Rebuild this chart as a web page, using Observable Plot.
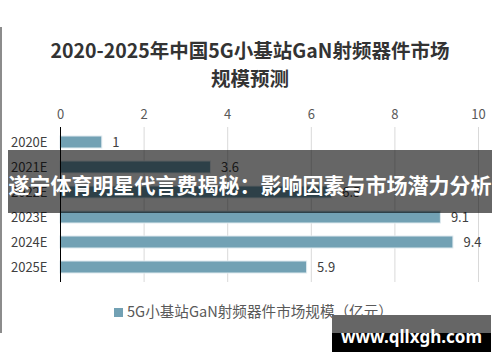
<!DOCTYPE html>
<html><head><meta charset="utf-8">
<script src="https://cdn.jsdelivr.net/npm/d3@7"></script>
<script src="https://cdn.jsdelivr.net/npm/@observablehq/plot@0.6"></script>
<style>
html,body{margin:0;padding:0;background:#fff;}
#wrap{position:relative;width:500px;height:362px;overflow:hidden;font-family:"Noto Sans CJK SC","Noto Sans",sans-serif;}
#border{position:absolute;left:0;top:27px;width:2px;height:306px;background:#8c8c8c;}
#title{position:absolute;left:0;top:36px;width:500px;text-align:center;font-size:19.5px;font-weight:700;line-height:28px;color:#333;}
#chart{position:absolute;left:0;top:95px;}
#legend{position:absolute;left:114px;top:301px;font-size:14.6px;color:#595959;white-space:nowrap;line-height:20px;}
#legend span.sw{display:inline-block;width:9px;height:9px;background:#72a1b4;margin-right:4px;vertical-align:0px;}
#band{position:absolute;left:8px;top:150px;width:484px;height:63px;background:rgba(0,0,0,0.6);}
#bandtext{position:absolute;left:0;top:169px;width:500px;text-align:center;color:#fff;font-size:21px;font-weight:700;line-height:30px;white-space:nowrap;}
#badge1{position:absolute;left:332px;top:315px;width:159px;height:18px;background:#666;}
#badge2{position:absolute;left:332px;top:333px;width:159px;height:19px;background:#000;}
#badgetext{position:absolute;left:332px;top:325px;width:159px;text-align:center;color:#fff;font-family:"Noto Sans",sans-serif;font-size:17px;font-weight:700;line-height:24px;}
</style></head>
<body>
<div id="wrap">
  <div id="border"></div>
  <div id="title">2020-2025年中国5G小基站GaN射频器件市场<br>规模预测</div>
  <div id="chart"></div>
  <div id="legend"><span class="sw"></span>5G小基站GaN射频器件市场规模（亿元）</div>
  <div id="band"></div>
  <div id="bandtext">遂宁体育明星代言费揭秘：影响因素与市场潜力分析</div>
  <div id="badge1"></div>
  <div id="badge2"></div>
  <div id="badgetext">www.qllxgh.com</div>
</div>
<script>
const years = ["2020E","2021E","2022E","2023E","2024E","2025E"];
const values = [1, 3.6, 6.5, 9.1, 9.4, 5.9];
const xTicks = [0, 2, 4, 6, 8, 10];
const seriesName = "5G小基站GaN射频器件市场规模（亿元）";

const data = years.map((y, i) => ({year: y, v: values[i]}));

const chart = Plot.plot({
  width: 500,
  height: 195,
  marginLeft: 60,
  marginRight: 22,
  marginTop: 32,
  marginBottom: 8,
  style: {fontFamily: '"Noto Sans CJK SC","Noto Sans",sans-serif', fontSize: "13px", color: "#595959", background: "transparent"},
  x: {domain: [0, 10], ticks: xTicks},
  y: {domain: years, paddingInner: 0.52, paddingOuter: 0.27},
  marks: [
    Plot.gridX(xTicks.filter(t => t > 0), {stroke: "#d9d9d9", strokeOpacity: 1}),
    Plot.axisX(xTicks, {anchor: "top", tickSize: 0, tickPadding: 9, label: null, fill: "#595959"}),
    Plot.axisY({anchor: "left", tickSize: 0, tickPadding: 13, label: null, fill: "#404040"}),
    Plot.barX(data, {x: "v", y: "year", fill: "#72a1b4", stroke: "#dfeaef", strokeWidth: 1}),
    Plot.ruleX([0], {stroke: "#000", strokeWidth: 1}),
    Plot.text(data, {x: "v", y: "year", text: d => String(d.v), dx: 10, textAnchor: "start", fill: "#404040", fontSize: 13})
  ]
});
document.getElementById("chart").appendChild(chart);
</script>
</body></html>
